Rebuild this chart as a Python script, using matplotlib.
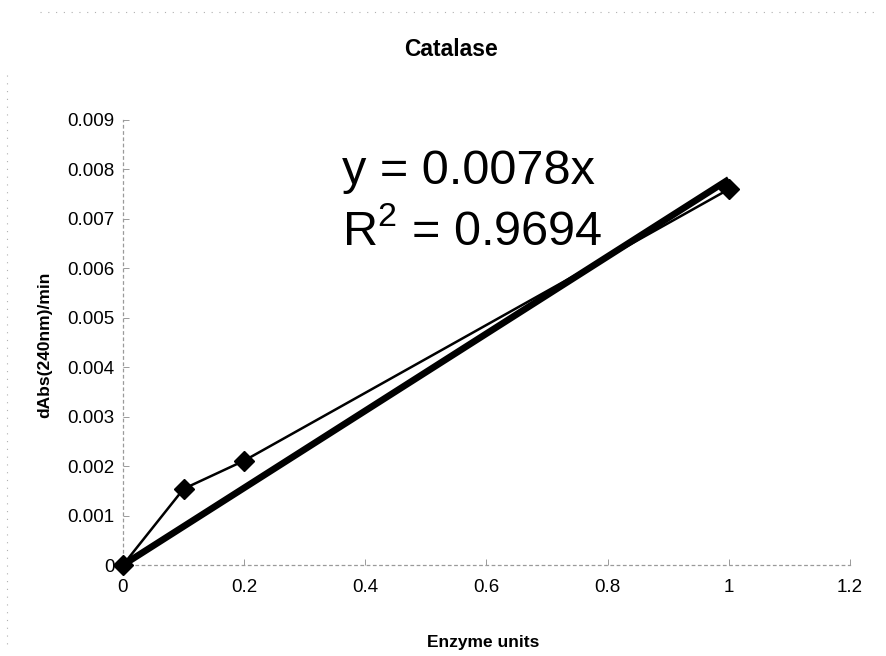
import matplotlib
matplotlib.use("Agg")
import matplotlib.pyplot as plt
from matplotlib.lines import Line2D

plt.rcParams['font.family'] = ['Liberation Sans', 'DejaVu Sans']
plt.rcParams['mathtext.fontset'] = 'custom'
plt.rcParams['mathtext.rm'] = 'Liberation Sans'
plt.rcParams['mathtext.it'] = 'Liberation Sans:italic'
plt.rcParams['mathtext.bf'] = 'Liberation Sans:bold'

# Measured activity
enzyme_units = [0, 0.1, 0.2, 1.0]
rate = [0.0, 0.00154, 0.00211, 0.0076]

# Linear fit forced through the origin
slope = 0.0078
r_squared = 0.9694
fit_x = [0, 1.0]

x_ticks = [0, 0.2, 0.4, 0.6, 0.8, 1, 1.2]
x_tick_labels = ["0", "0.2", "0.4", "0.6", "0.8", "1", "1.2"]
y_ticks = [0, 0.001, 0.002, 0.003, 0.004, 0.005, 0.006, 0.007, 0.008, 0.009]
y_tick_labels = ["0", "0.001", "0.002", "0.003", "0.004", "0.005", "0.006",
                 "0.007", "0.008", "0.009"]

W, H = 887, 656
fig = plt.figure(figsize=(W / 100, H / 100), dpi=100)
ax = fig.add_axes([123 / W, 1 - 565 / H, (850 - 123) / W, (565 - 120) / H])

fit_y = [slope * v for v in fit_x]
ax.plot(fit_x, fit_y, color="black", lw=4.8, solid_capstyle="butt", zorder=3)
ax.plot(enzyme_units, rate, color="black", lw=1.8, marker="D", markersize=10,
        zorder=4, clip_on=False)

ax.set_xlim(0, 1.2)
ax.set_ylim(0, 0.009)
ax.set_xticks(x_ticks)
ax.set_xticklabels(x_tick_labels)
ax.set_yticks(y_ticks)
ax.set_yticklabels(y_tick_labels)
ax.tick_params(axis="both", labelsize=13.5, colors="#9a9a9a", labelcolor="black",
               length=4, width=0.7, direction="in")
ax.tick_params(axis="x", pad=10)
ax.tick_params(axis="y", pad=6)

for side in ("top", "right"):
    ax.spines[side].set_visible(False)
for side in ("left", "bottom"):
    ax.spines[side].set_color("#9a9a9a")
    ax.spines[side].set_linewidth(0.9)
    ax.spines[side].set_linestyle((0, (2, 3)))

fig.text(342 / W, 1 - 172 / H, f"y = {slope}x", fontsize=35, va="center",
         ha="left")
fig.text(342 / W, 1 - 232 / H, rf"R$^{{2}}$ = {r_squared}", fontsize=35,
         va="center", ha="left")

fig.text(451 / W, 1 - 50 / H, "Catalase", fontsize=16.5, fontweight="bold",
         ha="center", va="center")
fig.text(483 / W, 1 - 642 / H, "Enzyme units", fontsize=12.5, fontweight="bold",
         ha="center", va="center")
fig.text(45 / W, 1 - 345 / H, "dAbs(240nm)/min", fontsize=12.5, fontweight="bold",
         ha="center", va="center", rotation=90)

# faint dotted border of the chart area
fig.add_artist(Line2D([40 / W, 880 / W], [1 - 12 / H, 1 - 12 / H],
                      color="#b0b0b0", lw=0.8, linestyle=(0, (1, 6))))
fig.add_artist(Line2D([7 / W, 7 / W], [1 - 75 / H, 1 - 650 / H],
                      color="#b0b0b0", lw=0.8, linestyle=(0, (1, 6))))

fig.savefig("out.png", dpi=100)
